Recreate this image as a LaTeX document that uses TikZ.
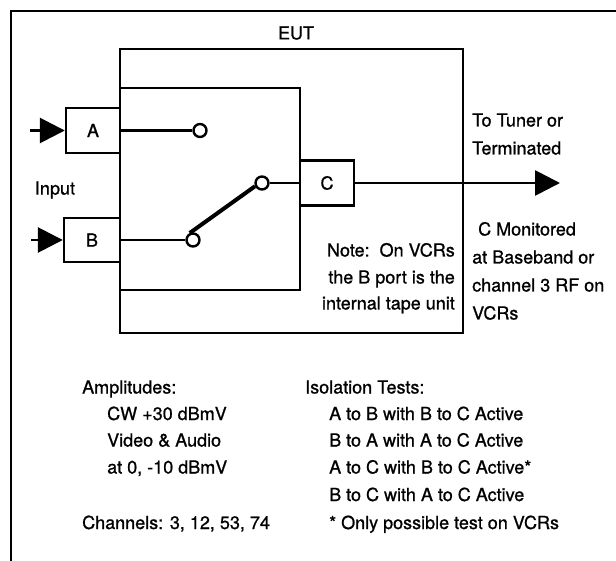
\documentclass[tikz,border=0pt]{standalone}
\usepackage{fontspec}
\setmainfont{TeX Gyre Heros}[FakeBold=0.9]
\usetikzlibrary{arrows.meta}

\tikzset{
  port/.style={draw, line width=2.4pt, minimum width=54pt, minimum height=45pt, inner sep=0pt},
  contact/.style={circle, draw, line width=2.4pt, fill=white, minimum size=13pt, inner sep=0pt},
  wire/.style={line width=2.8pt},
  feed/.style={line width=2.8pt, -{Triangle[length=25pt, width=25pt]}},
  txt/.style={anchor=base west, inner sep=0pt},
  txtr/.style={anchor=base east, inner sep=0pt},
}

\begin{document}
\begin{tikzpicture}[x=1pt, y=-1pt, font=\fontsize{18}{22}\selectfont]
  \useasboundingbox (0,0) rectangle (616,561);

  % frame and EUT box
  \draw[line width=2.2pt] (11,561) -- (11,11) -- (616,11);
  \draw[line width=2.4pt] (120,49) rectangle (463,333);
  \draw[line width=2.4pt] (120,88) rectangle (300,290);
  \node (eut) at (296,33) {EUT};

  % ports
  \node[port] (A) at (93,130.5) {A};
  \node[port, minimum width=56pt, minimum height=44pt] (B) at (92,240) {B};
  \node[port] (C) at (327,183) {C};

  % switch contacts
  \node[contact] (ka) at (200,130.5) {};
  \node[contact] (kb) at (193,240) {};
  \node[contact] (kc) at (262,183) {};

  \draw[wire] (A.east) -- (ka);
  \draw[wire] (B.east) -- (kb);
  \draw[wire] (kc) -- (C.west);
  \draw[line width=4pt] (kb.115) -- (kc.205);

  % inputs and output
  \coordinate (inA) at (30,130.5);
  \coordinate (inB) at (31,240);
  \coordinate (out) at (560,183);
  \draw[feed] (inA) -- (A.west);
  \draw[feed] (inB) -- (B.west);
  \draw[feed] (C.east) -- (out);

  \node (input) at (55,190) {Input};

  \node[txt] (tuner) at (472,126.5) {To Tuner or};
  \node[txt] (term) at (472,154.5) {Terminated};

  \node[txt] (mon) at (478,235.5) {C Monitored};
  \node[txt] (base) at (472,263.5) {at Baseband or};
  \node[txt] (chan) at (472,291.5) {channel 3 RF on};
  \node[txt] (vcrs) at (472,319.5) {VCRs};

  % note inside the EUT
  \node[txtr] (note) at (455,256.5) {Note:\ \ On VCRs};
  \node[txtr] (bport) at (455,283.5) {the B port is the};
  \node[txtr] (tape) at (455,309.5) {internal tape unit};

  % amplitudes
  \node[txt] (amp) at (82,393.5) {Amplitudes:};
  \node[txt] (cw) at (107,420) {CW +30 dBmV};
  \node[txt] (va) at (107,446.5) {Video \& Audio};
  \node[txt] (lvl) at (107,473.5) {at 0, -10 dBmV};
  \node[txt] (chs) at (82,529) {Channels: 3, 12, 53, 74};

  % isolation tests
  \node[txt] (iso) at (305,393.5) {Isolation Tests:};
  \node[txt] (ab) at (329,420) {A to B with B to C Active};
  \node[txt] (ba) at (329,446.5) {B to A with A to C Active};
  \node[txt] (ac) at (329,473.5) {A to C with B to C Active*};
  \node[txt] (bc) at (329,501) {B to C with A to C Active};
  \node[txt] (only) at (329,529) {* Only possible test on VCRs};
\end{tikzpicture}
\end{document}
